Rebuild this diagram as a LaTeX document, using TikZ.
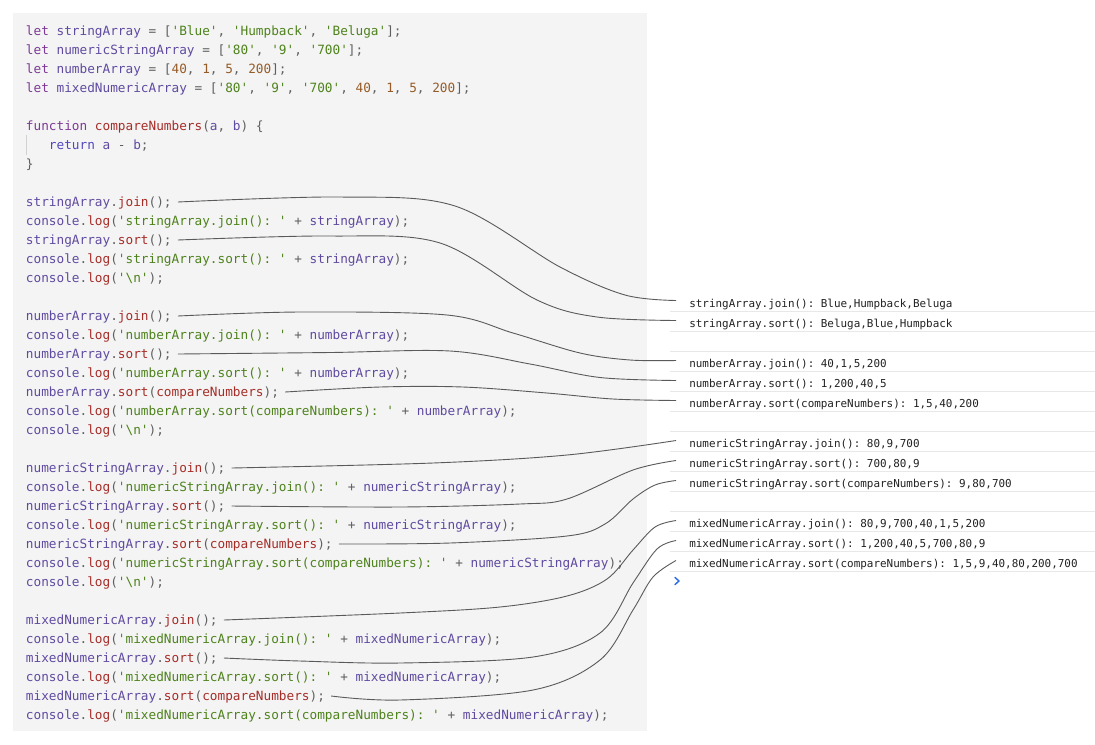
\documentclass[tikz,border=0pt]{standalone}
\usepackage{fontspec}
\setmonofont{DejaVu Sans Mono}
\usetikzlibrary{calc}
\definecolor{ckw}{RGB}{125,58,150}
\definecolor{cret}{RGB}{82,72,190}
\definecolor{cvar}{RGB}{96,74,160}
\definecolor{cfn}{RGB}{165,45,40}
\definecolor{cstr}{RGB}{78,130,28}
\definecolor{cnum}{RGB}{150,92,40}
\definecolor{cpun}{RGB}{95,95,95}
\definecolor{ccons}{RGB}{34,34,34}
\definecolor{cpanel}{RGB}{244,244,244}
\definecolor{cdiv}{RGB}{232,232,232}
\definecolor{cconn}{RGB}{90,90,90}
\definecolor{cprompt}{RGB}{45,110,230}
\newcommand\cKw[1]{\textcolor{ckw}{#1}}
\newcommand\cRt[1]{\textcolor{cret}{#1}}
\newcommand\cVa[1]{\textcolor{cvar}{#1}}
\newcommand\cFn[1]{\textcolor{cfn}{#1}}
\newcommand\cSt[1]{\textcolor{cstr}{#1}}
\newcommand\cNu[1]{\textcolor{cnum}{#1}}
\begin{document}
\begin{tikzpicture}[x=0.75pt,y=-0.75pt,
  codeline/.style={anchor=base west,inner sep=0pt,text=cpun,
    font=\ttfamily\fontsize{9.55pt}{12pt}\selectfont},
  consline/.style={anchor=base west,inner sep=0pt,text=ccons,
    font=\ttfamily\fontsize{8.2pt}{10pt}\selectfont},
  conn/.style={draw=cconn,line width=0.9pt*0.75},
  divider/.style={draw=cdiv,line width=0.75pt},
  guide/.style={draw=black!18,line width=0.75pt}]
\useasboundingbox (0,0) rectangle (1095,744);
\fill[white] (0,0) rectangle (1095,744);
\fill[cpanel] (13,13) rectangle (647,731);
\draw[guide] (26.5,135) -- (26.5,155);
% code lines
\node[codeline] (c0) at (25.7,35) {\cKw{let} \cVa{stringArray} = [\cSt{'Blue'}, \cSt{'Humpback'}, \cSt{'Beluga'}];};
\node[codeline] (c1) at (25.7,54) {\cKw{let} \cVa{numericStringArray} = [\cSt{'80'}, \cSt{'9'}, \cSt{'700'}];};
\node[codeline] (c2) at (25.7,73) {\cKw{let} \cVa{numberArray} = [\cNu{40}, \cNu{1}, \cNu{5}, \cNu{200}];};
\node[codeline] (c3) at (25.7,92) {\cKw{let} \cVa{mixedNumericArray} = [\cSt{'80'}, \cSt{'9'}, \cSt{'700'}, \cNu{40}, \cNu{1}, \cNu{5}, \cNu{200}];};
\node[codeline] (c5) at (25.7,130) {\cKw{function} \cFn{compareNumbers}(\cVa{a}, \cVa{b}) \{};
\node[codeline] (c6) at (48.7,149) {\cRt{return} \cVa{a} - \cVa{b};};
\node[codeline] (c7) at (25.7,168) {\}};
\node[codeline] (c9) at (25.7,206) {\cVa{stringArray}.\cFn{join}();};
\node[codeline] (c10) at (25.7,225) {\cVa{console}.\cFn{log}(\cSt{'stringArray.join(): '} + \cVa{stringArray});};
\node[codeline] (c11) at (25.7,244) {\cVa{stringArray}.\cFn{sort}();};
\node[codeline] (c12) at (25.7,263) {\cVa{console}.\cFn{log}(\cSt{'stringArray.sort(): '} + \cVa{stringArray});};
\node[codeline] (c13) at (25.7,282) {\cVa{console}.\cFn{log}(\cSt{'\textbackslash n'});};
\node[codeline] (c15) at (25.7,320) {\cVa{numberArray}.\cFn{join}();};
\node[codeline] (c16) at (25.7,339) {\cVa{console}.\cFn{log}(\cSt{'numberArray.join(): '} + \cVa{numberArray});};
\node[codeline] (c17) at (25.7,358) {\cVa{numberArray}.\cFn{sort}();};
\node[codeline] (c18) at (25.7,377) {\cVa{console}.\cFn{log}(\cSt{'numberArray.sort(): '} + \cVa{numberArray});};
\node[codeline] (c19) at (25.7,396) {\cVa{numberArray}.\cFn{sort}(\cFn{compareNumbers});};
\node[codeline] (c20) at (25.7,415) {\cVa{console}.\cFn{log}(\cSt{'numberArray.sort(compareNumbers): '} + \cVa{numberArray});};
\node[codeline] (c21) at (25.7,434) {\cVa{console}.\cFn{log}(\cSt{'\textbackslash n'});};
\node[codeline] (c23) at (25.7,472) {\cVa{numericStringArray}.\cFn{join}();};
\node[codeline] (c24) at (25.7,491) {\cVa{console}.\cFn{log}(\cSt{'numericStringArray.join(): '} + \cVa{numericStringArray});};
\node[codeline] (c25) at (25.7,510) {\cVa{numericStringArray}.\cFn{sort}();};
\node[codeline] (c26) at (25.7,529) {\cVa{console}.\cFn{log}(\cSt{'numericStringArray.sort(): '} + \cVa{numericStringArray});};
\node[codeline] (c27) at (25.7,548) {\cVa{numericStringArray}.\cFn{sort}(\cFn{compareNumbers});};
\node[codeline] (c28) at (25.7,567) {\cVa{console}.\cFn{log}(\cSt{'numericStringArray.sort(compareNumbers): '} + \cVa{numericStringArray});};
\node[codeline] (c29) at (25.7,586) {\cVa{console}.\cFn{log}(\cSt{'\textbackslash n'});};
\node[codeline] (c31) at (25.7,624) {\cVa{mixedNumericArray}.\cFn{join}();};
\node[codeline] (c32) at (25.7,643) {\cVa{console}.\cFn{log}(\cSt{'mixedNumericArray.join(): '} + \cVa{mixedNumericArray});};
\node[codeline] (c33) at (25.7,662) {\cVa{mixedNumericArray}.\cFn{sort}();};
\node[codeline] (c34) at (25.7,681) {\cVa{console}.\cFn{log}(\cSt{'mixedNumericArray.sort(): '} + \cVa{mixedNumericArray});};
\node[codeline] (c35) at (25.7,700) {\cVa{mixedNumericArray}.\cFn{sort}(\cFn{compareNumbers});};
\node[codeline] (c36) at (25.7,719) {\cVa{console}.\cFn{log}(\cSt{'mixedNumericArray.sort(compareNumbers): '} + \cVa{mixedNumericArray});};
% console
\foreach \k in {0,...,13} {\draw[divider] (670,311.7+20*\k) -- (1095,311.7+20*\k);}
\node[consline] (r1) at (689,307) {stringArray.join(): Blue,Humpback,Beluga};
\node[consline] (r2) at (689,327) {stringArray.sort(): Beluga,Blue,Humpback};
\node[consline] (r3) at (689,367) {numberArray.join(): 40,1,5,200};
\node[consline] (r4) at (689,387) {numberArray.sort(): 1,200,40,5};
\node[consline] (r5) at (689,407) {numberArray.sort(compareNumbers): 1,5,40,200};
\node[consline] (r6) at (689,447) {numericStringArray.join(): 80,9,700};
\node[consline] (r7) at (689,467) {numericStringArray.sort(): 700,80,9};
\node[consline] (r8) at (689,487) {numericStringArray.sort(compareNumbers): 9,80,700};
\node[consline] (r9) at (689,527) {mixedNumericArray.join(): 80,9,700,40,1,5,200};
\node[consline] (r10) at (689,547) {mixedNumericArray.sort(): 1,200,40,5,700,80,9};
\node[consline] (r11) at (689,567) {mixedNumericArray.sort(compareNumbers): 1,5,9,40,80,200,700};
\draw[draw=cprompt,line width=1.1pt,line cap=round,line join=round] (675,577.5) -- (679,581) -- (675,584.5);
% connector ends
\foreach \c/\r/\i in {c9/r1/1,c11/r2/2,c15/r3/3,c17/r4/4,c19/r5/5,c23/r6/6,c25/r7/7,c27/r8/8,c31/r9/9,c33/r10/10,c35/r11/11} {
  \coordinate (s\i) at ($(\c.base east)+(6,-4)$);
  \coordinate (e\i) at ($(\r.base west)+(-13,-6.5)$);
}
\draw[conn] plot[smooth,tension=0.55] coordinates {(s1) (340,197) (455,206) (560,267) (625,295) (e1)};
\draw[conn] plot[smooth,tension=0.55] coordinates {(s2) (330,236) (440,243) (537,300) (597,317) (e2)};
\draw[conn] plot[smooth,tension=0.55] coordinates {(s3) (300,312) (447,315) (513,333) (580,353) (630,360) (e3)};
\draw[conn] plot[smooth,tension=0.55] coordinates {(s4) (330,352.5) (450,351) (530,364) (600,377.5) (e4)};
\draw[conn] plot[smooth,tension=0.55] coordinates {(s5) (380,387) (463,387) (547,393) (613,399) (e5)};
\draw[conn] plot[smooth,tension=0.55] coordinates {(s6) (433,463) (567,455) (e6)};
\draw[conn] plot[smooth,tension=0.55] coordinates {(s7) (400,507) (520,504) (567,499) (633,470) (e7)};
\draw[conn] plot[smooth,tension=0.55] coordinates {(s8) (450,543) (567,536) (605,524) (633,499) (655,485) (e8)};
\draw[conn] plot[smooth,tension=0.55] coordinates {(s9) (400,613) (500,607) (567,596) (607,579) (633,550) (655,527) (e9)};
\draw[conn] plot[smooth,tension=0.55] coordinates {(s10) (300,661) (400,663) (533,657) (600,633) (633,583) (657,549) (e10)};
\draw[conn] plot[smooth,tension=0.55] coordinates {(s11) (400,700) (533,690) (600,660) (633,610) (653,577) (e11)};
\end{tikzpicture}
\end{document}
